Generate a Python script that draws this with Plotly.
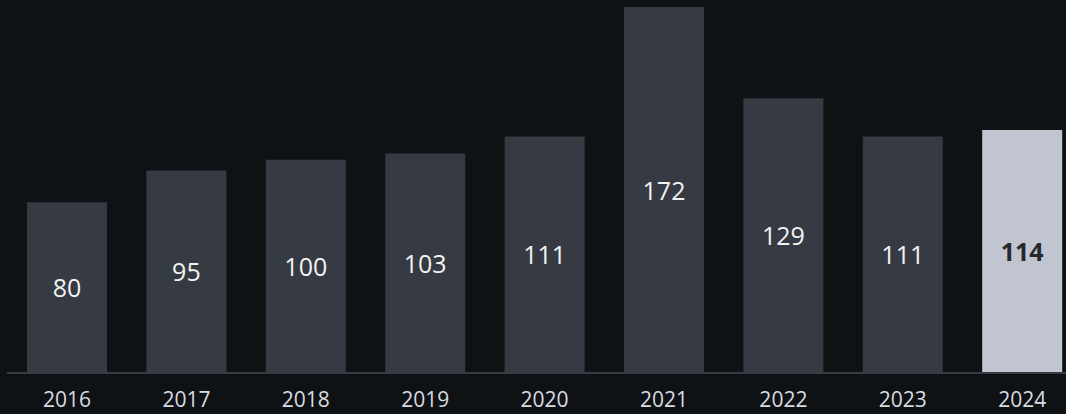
import plotly.graph_objects as go

years = ["2016", "2017", "2018", "2019", "2020", "2021", "2022", "2023", "2024"]
values = [80, 95, 100, 103, 111, 172, 129, 111, 114]

BG = "#0f1215"
BAR = "#363a43"
HIGHLIGHT = "#c0c5d1"

bar_colors = [BAR] * (len(years) - 1) + [HIGHLIGHT]
text_colors = ["#f2f2f2"] * (len(years) - 1) + ["#26282c"]
labels = [str(v) for v in values[:-1]] + [f"<b>{values[-1]}</b>"]

fig = go.Figure(
    go.Bar(
        x=years,
        y=values,
        marker=dict(color=bar_colors, line=dict(width=0)),
        text=labels,
        textposition="inside",
        insidetextanchor="middle",
        textangle=0,
        textfont=dict(family="Open Sans", size=25, color=text_colors),
        hoverinfo="skip",
    )
)

fig.update_layout(
    width=1066,
    height=414,
    margin=dict(l=7, r=0, t=0, b=42),
    paper_bgcolor=BG,
    plot_bgcolor=BG,
    bargap=0.33,
    showlegend=False,
    xaxis=dict(
        type="category",
        range=[-0.5025, 8.367],
        showgrid=False,
        zeroline=False,
        showline=True,
        linecolor="#363a42",
        linewidth=2,
        ticks="outside",
        ticklen=8,
        tickcolor="rgba(0,0,0,0)",
        tickfont=dict(family="Open Sans", size=21, color="#d9dbe0"),
        fixedrange=True,
    ),
    yaxis=dict(
        range=[0, 175.3],
        visible=False,
        showgrid=False,
        zeroline=False,
        fixedrange=True,
    ),
)

fig.write_html("out.html")
